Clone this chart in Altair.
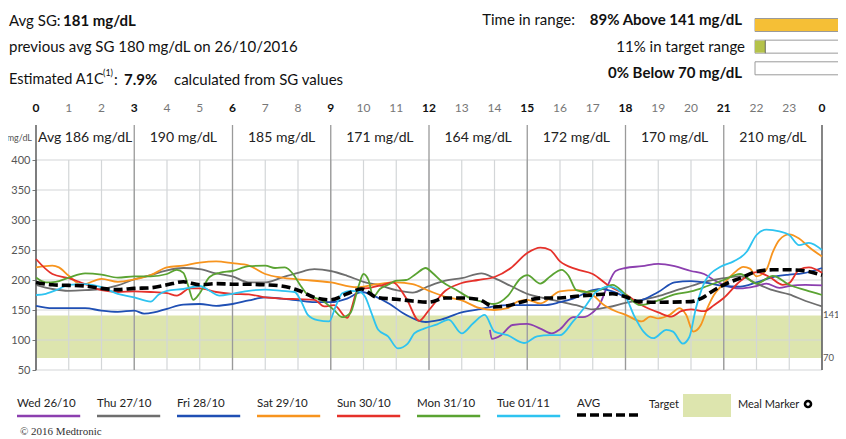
import altair as alt
import pandas as pd

# ---------------- data ----------------
days = ["Wed 26/10", "Thu 27/10", "Fri 28/10", "Sat 29/10", "Sun 30/10", "Mon 31/10", "Tue 01/11"]
day_colors = ["#8C3FAF", "#6E6E6E", "#1F4FB4", "#F7941E", "#E5312A", "#5AA332", "#2EC3F0"]

wed = [(13.86, 117), (13.92, 102), (14.2, 108), (14.55, 125), (15.0, 127), (15.4, 119), (15.75, 111),
       (16.0, 118), (16.4, 138), (16.7, 138), (17.0, 146), (17.2, 158), (17.45, 190), (17.7, 215),
       (18.0, 220), (18.5, 223), (19.0, 227), (19.5, 223), (20.0, 215), (20.4, 210), (20.7, 200),
       (21.0, 192), (21.5, 186), (22.0, 190), (22.3, 194), (22.7, 187), (23.0, 190), (23.5, 192), (24.0, 191)]
thu = [(0, 192), (0.5, 185), (1, 182), (1.5, 183), (2, 185), (2.5, 191), (3, 201), (3.5, 208), (4, 216),
       (4.5, 220), (5, 218), (5.5, 211), (6, 206), (6.5, 196), (7, 196), (7.5, 204), (8, 212), (8.5, 218),
       (9, 215), (9.5, 207), (10, 197), (10.5, 191), (11, 183), (11.5, 179), (12, 190), (12.5, 199),
       (13, 203), (13.6, 211), (14, 203), (14.5, 190), (15, 177), (15.5, 170), (16, 164), (16.5, 158),
       (17, 151), (17.5, 155), (18, 162), (18.5, 167), (19, 173), (19.5, 182), (20, 190), (20.5, 198),
       (21, 203), (21.5, 206), (22, 194), (22.5, 183), (23, 176), (23.5, 165), (24, 156)]
fri = [(0, 157), (0.5, 153), (1, 153), (1.5, 153), (2, 149), (2.5, 147), (3, 149), (3.3, 144), (3.6, 146),
       (4, 152), (4.5, 159), (5, 160), (5.5, 157), (6, 160), (6.5, 166), (7, 171), (7.5, 169), (8, 166),
       (8.5, 163), (9, 163), (9.5, 169), (9.95, 180), (10.3, 174), (10.8, 160), (11.2, 145), (11.6, 134),
       (11.9, 130), (12.3, 133), (13, 146), (13.5, 151), (14, 156), (14.5, 158), (15, 158), (15.5, 158),
       (16, 163), (16.4, 169), (17, 183), (17.3, 185), (17.6, 181), (18, 172), (18.35, 165), (19, 180),
       (19.5, 196), (20, 198), (20.6, 194), (21, 190), (21.5, 189), (22, 196), (22.5, 205), (23, 209),
       (23.4, 211), (24, 220)]
sat = [(0, 221), (0.5, 224), (0.7, 221), (1, 207), (1.4, 192), (2, 202), (2.5, 197), (3, 201), (3.5, 208),
       (4, 221), (4.5, 224), (5, 229), (5.5, 231), (6, 228), (6.5, 224), (7, 210), (7.5, 204), (8, 201),
       (9, 196), (9.8, 188), (10.4, 193), (11, 196), (11.5, 193), (12, 182), (12.5, 172), (13, 166),
       (13.5, 154), (14, 150), (14.4, 153), (14.7, 164), (15, 167), (15.4, 161), (16, 181), (16.5, 183),
       (17, 175), (17.3, 160), (17.7, 148), (18, 142), (18.5, 131), (18.75, 139), (19, 136), (19.35, 142),
       (19.65, 153), (19.85, 142), (20.07, 114), (20.3, 125), (20.5, 153), (20.7, 175), (21, 194),
       (21.3, 211), (21.6, 222), (21.8, 219), (22, 206), (22.3, 217), (22.5, 247), (22.7, 267), (23, 276),
       (23.3, 269), (23.6, 255), (24, 239)]
sun = [(0, 235), (0.5, 210), (1, 203), (1.5, 193), (2, 183), (2.5, 180), (3, 181), (3.5, 180), (4, 178),
       (4.3, 174), (4.7, 186), (5, 186), (5.5, 180), (6, 177), (6.5, 176), (7, 171), (7.5, 169), (8, 168),
       (8.5, 167), (8.8, 156), (9.1, 158), (9.5, 137), (9.85, 185), (10.2, 187), (10.6, 192), (10.9, 196),
       (11.3, 170), (11.7, 132), (12, 150), (12.5, 182), (13, 195), (13.5, 200), (14, 205), (14.5, 220),
       (15, 245), (15.4, 254), (15.7, 250), (16, 231), (16.5, 218), (17, 210), (17.5, 190), (18, 176),
       (18.5, 158), (19, 146), (19.4, 139), (19.7, 148), (20, 151), (20.4, 148), (20.7, 158), (21, 170),
       (21.5, 198), (22, 213), (22.4, 205), (22.8, 192), (23, 195), (23.3, 217), (23.6, 221), (24, 212)]
mon = [(0, 204), (0.3, 196), (0.6, 197), (1, 204), (1.5, 211), (2, 209), (2.5, 204), (3, 206), (3.5, 206),
       (4, 210), (4.3, 217), (4.5, 212), (4.65, 190), (4.8, 167), (5, 178), (5.3, 205), (5.6, 212), (6, 215),
       (6.5, 223), (7, 224), (7.3, 220), (7.6, 221), (7.85, 210), (8.05, 193), (8.3, 175), (8.7, 167),
       (9.1, 150), (9.35, 138), (9.6, 145), (9.85, 190), (10.0, 210), (10.15, 200), (10.3, 172), (10.5, 185),
       (10.75, 192), (11, 199), (11.3, 200), (11.6, 210), (11.9, 220), (12.1, 212), (12.4, 197), (12.85, 183),
       (13.25, 170), (13.7, 163), (14, 160), (14.4, 173), (14.8, 203), (15, 208), (15.4, 194), (15.7, 206),
       (16.05, 217), (16.25, 208), (16.5, 183), (16.8, 180), (17.2, 183), (17.6, 192), (18, 176),
       (18.45, 158), (19, 166), (19.5, 176), (20, 181), (20.5, 190), (21, 200), (21.5, 210), (22, 194),
       (22.5, 207), (23, 192), (23.5, 183), (24, 175)]
tue = [(0, 175), (0.3, 177), (0.7, 185), (1, 192), (1.5, 193), (2, 188), (2.5, 177), (3, 171), (3.5, 164),
       (3.75, 176), (4, 182), (4.5, 185), (5, 190), (5.3, 182), (5.6, 174), (6, 177), (6.5, 182), (7, 184),
       (7.5, 182), (7.9, 180), (8.1, 164), (8.3, 142), (8.6, 133), (8.95, 131), (9.15, 156), (9.35, 178),
       (9.6, 182), (9.85, 181), (10.05, 172), (10.25, 144), (10.45, 117), (10.75, 106), (11.05, 86),
       (11.35, 94), (11.55, 111), (11.85, 119), (12.25, 126), (12.6, 134), (13, 111), (13.35, 128),
       (13.7, 142), (14, 114), (14.4, 108), (14.9, 95), (15.3, 106), (15.7, 108), (16, 108), (16.4, 131),
       (16.8, 158), (17.1, 180), (17.5, 189), (18, 172), (18.25, 142), (18.55, 114), (18.85, 103),
       (19.25, 117), (19.45, 114), (19.75, 94), (19.95, 105), (20.15, 153), (20.45, 200), (20.9, 222),
       (21.3, 231), (21.7, 247), (22, 275), (22.3, 284), (22.7, 281), (23, 275), (23.3, 258), (23.6, 262),
       (24, 250)]
avg = [(0, 196), (0.5, 192), (1, 191), (1.5, 190), (2, 186), (2.5, 184), (3, 186), (3.5, 187), (4, 192),
       (4.5, 197), (5, 192), (5.5, 194), (6, 193), (6.5, 193), (7, 192), (7.5, 190), (8, 183), (8.5, 171),
       (9, 167), (9.5, 177), (9.95, 185), (10.4, 171), (11, 168), (11.5, 165), (12, 163), (12.5, 170),
       (13, 170), (13.5, 168), (14, 155), (14.4, 157), (15, 166), (15.5, 170), (16, 170), (16.5, 173),
       (17, 175), (17.6, 177), (18, 172), (18.4, 164), (19, 163), (20, 164), (20.3, 169), (20.7, 183),
       (21, 192), (21.5, 203), (22, 214), (22.5, 217), (23, 217), (23.5, 215), (24, 208)]

block_labels = ["Avg 186 mg/dL", "190 mg/dL", "185 mg/dL", "171 mg/dL",
                "164 mg/dL", "172 mg/dL", "170 mg/dL", "210 mg/dL"]
hour_ticks = list(range(25))
y_ticks = [50, 100, 150, 200, 250, 300, 350, 400]
target_low, target_high = 70, 141

tir_labels = ["89% Above 141 mg/dL", "11% in target range", "0% Below 70 mg/dL"]
tir_pct = [89, 11, 0]
tir_colors = ["#F5BF36", "#B4C24A", "#FFFFFF"]

# ---------------- layout constants ----------------
OX, OY = 36, 160          # page position of plot origin
W, H = 786, 210
CW, CH = 830, 431         # canvas size
FONT = "Lato, Open Sans, sans-serif"
NARROW = "Lato, Roboto, sans-serif"

series = pd.DataFrame(
    [(d, h, v) for d, pts in zip(days, [wed, thu, fri, sat, sun, mon, tue]) for h, v in pts],
    columns=["day", "h", "v"])
avg_df = pd.DataFrame(avg, columns=["h", "v"])

X = alt.X("h:Q", scale=alt.Scale(domain=[0, 24], nice=False, zero=False), axis=None)
Y = alt.Y("v:Q", scale=alt.Scale(domain=[50, 400], nice=False, zero=False),
          axis=alt.Axis(values=y_ticks, grid=False, domain=False, ticks=True, tickSize=4,
                        tickColor="#777", labelColor="#555", labelFont=NARROW, labelFontSize=11,
                        labelPadding=2, title=None))

dummy = pd.DataFrame({"d": [0]})


def txt(s, px, py, size=15, weight="normal", align="left", font=FONT, color="#111"):
    return alt.Chart(dummy).mark_text(
        text=s, align=align, baseline="middle", font=font, fontSize=size,
        fontWeight=weight, color=color).encode(x=alt.value(px - OX), y=alt.value(py - OY))


band = alt.Chart(pd.DataFrame({"h": [0], "h2": [24], "v": [target_low], "v2": [target_high]})).mark_rect(
    color="#DDE5AE").encode(x=X, x2="h2:Q", y=Y, y2="v2:Q")

vgrid = alt.Chart(pd.DataFrame({"h": hour_ticks})).mark_rule(color="#D3D6D8", strokeWidth=1.2).encode(
    x=X, y=alt.value(0), y2=alt.value(H))
hgrid = alt.Chart(pd.DataFrame({"v": y_ticks})).mark_rule(color="#D3D6D8", strokeWidth=1.2).encode(
    y=Y, x=alt.value(0), x2=alt.value(W))

major = pd.DataFrame({"h": hour_ticks[::3]})
major["c"] = ["#444" if h in (0, 24) else "#9A9A9A" for h in major["h"]]
vmajor = alt.Chart(major).mark_rule(strokeWidth=1.3).encode(
    x=X, y=alt.value(-35), y2=alt.value(H), color=alt.Color("c:N", scale=None))

lines = alt.Chart(series).mark_line(strokeWidth=1.8, interpolate="monotone").encode(
    x=X, y=Y, color=alt.Color("day:N", scale=alt.Scale(domain=days, range=day_colors), legend=None),
    order=alt.Order("h:Q"))
avg_line = alt.Chart(avg_df).mark_line(strokeWidth=3.6, color="black", strokeDash=[9, 4],
                                       interpolate="monotone").encode(x=X, y=Y)

hl = pd.DataFrame({"h": hour_ticks, "lab": [str(h % 24) for h in hour_ticks]})
hl["major"] = [h % 3 == 0 for h in hour_ticks]
hour_major = alt.Chart(hl).transform_filter("datum.major").mark_text(
    font=NARROW, fontSize=12, fontWeight="bold", color="#111", baseline="middle").encode(
    x=X, y=alt.value(108 - OY), text="lab:N")
hour_minor = alt.Chart(hl).transform_filter("!datum.major").mark_text(
    font=NARROW, fontSize=12, color="#777", baseline="middle").encode(
    x=X, y=alt.value(108 - OY), text="lab:N")

blocks = pd.DataFrame({"h": [3 * i + 1.5 for i in range(8)], "lab": block_labels})
block_text = alt.Chart(blocks).mark_text(font=FONT, fontSize=14, color="#222", baseline="middle").encode(
    x=X, y=alt.value(138 - OY), text="lab:N")

right_lab = alt.Chart(pd.DataFrame({"v": [target_high, target_low]})).mark_text(
    font=NARROW, fontSize=9.5, color="#555", align="left", baseline="middle").encode(
    y=Y, x=alt.value(W + 1), text="v:N")

main = alt.layer(
    band, vgrid, hgrid, vmajor, lines, avg_line, hour_major, hour_minor, block_text, right_lab,
    txt("mg/dL", 32, 138, size=9, align="right", font=NARROW, color="#555"),
    # header left
    txt("Avg SG:", 9, 21), txt("181 mg/dL", 63, 21, weight="bold"),
    txt("previous avg SG 180 mg/dL on 26/10/2016", 9, 47),
    txt("Estimated A1C", 9, 80, size=14.5), txt("(1)", 103, 73, size=9), txt(":", 114, 80),
    txt("7.9%", 124, 80, weight="bold"), txt("calculated from SG values", 174, 80),
    # header right
    txt("Time in range:", 575, 20, align="right"),
    txt(tir_labels[0], 742, 20, weight="bold", align="right"),
    txt(tir_labels[1], 745, 47, align="right"),
    txt(tir_labels[2], 742, 73, weight="bold", align="right"),
    # legend extras
    txt("Target", 649, 405, size=11, font=NARROW, color="#222"),
    alt.Chart(dummy).mark_rect(color="#DDE5AE").encode(
        x=alt.value(683 - OX), x2=alt.value(731 - OX), y=alt.value(394 - OY), y2=alt.value(417 - OY)),
    txt("Meal Marker", 738, 405, size=11, font=NARROW, color="#222"),
    alt.Chart(dummy).mark_point(shape="circle", size=36, stroke="black", strokeWidth=2.6, filled=False,
                                opacity=1).encode(x=alt.value(808 - OX), y=alt.value(404 - OY)),
    txt("© 2016 Medtronic", 20, 432, size=11, font="Liberation Serif, DejaVu Serif, serif", color="#333"),
)

# time-in-range bars
tir_df = pd.DataFrame({"row": [0, 1, 2], "pct": tir_pct, "c": tir_colors, "lo": 0, "hi": 100})
TX = alt.X("lo:Q", scale=alt.Scale(domain=[0, 100], range=[755 - OX, 849 - OX]), axis=None)
TY = alt.Y("row:Q", scale=alt.Scale(domain=[0, 2], range=[20 - OY, 73.3 - OY]), axis=None)
tir_box = alt.Chart(tir_df).mark_bar(size=13, fill="white", stroke="#9A9A9A", strokeWidth=1).encode(
    x=TX, x2="hi:Q", y=TY)
tir_fill = alt.Chart(tir_df).transform_filter("datum.pct > 0").mark_bar(size=12).encode(
    x=TX, x2="pct:Q", y=TY, color=alt.Color("c:N", scale=None))
tir_end = alt.Chart(tir_df).transform_filter("datum.pct > 0").mark_tick(
    orient="vertical", size=13, thickness=1.2, color="#555").encode(
    x=alt.X("pct:Q", scale=alt.Scale(domain=[0, 100], range=[755 - OX, 849 - OX]), axis=None), y=TY)
tir = alt.layer(tir_box, tir_fill, tir_end)

# legend
leg = pd.DataFrame({"name": days + ["AVG"], "i": list(range(8)), "c": day_colors + ["#000000"]})
LX = alt.X("i:Q", scale=alt.Scale(domain=[0, 7], range=[17 - OX, 577 - OX]), axis=None)
leg_text = alt.Chart(leg).mark_text(font=NARROW, fontSize=11.5, color="#222", align="left",
                                    baseline="middle").encode(x=LX, y=alt.value(404 - OY), text="name:N")
leg_line = alt.Chart(leg).transform_filter("datum.i < 7").transform_calculate(
    i2="datum.i + 0.79").mark_rule(strokeWidth=2.6).encode(
    x=LX, x2="i2:Q", y=alt.value(416 - OY), color=alt.Color("c:N", scale=None))
leg_avg = alt.Chart(leg).transform_filter("datum.i == 7").transform_calculate(
    i2="datum.i + 0.79").mark_rule(strokeWidth=3.6, color="black", strokeDash=[9, 4]).encode(
    x=LX, x2="i2:Q", y=alt.value(415 - OY))
legend = alt.layer(leg_text, leg_line, leg_avg)

chart = alt.layer(main, tir, legend).resolve_scale(
    x="independent", y="independent"
).properties(
    width=W, height=H,
    autosize=alt.AutoSizeParams(type="none"),
    padding={"left": OX - 8, "top": OY - 8, "right": CW - (OX - 8) - W, "bottom": CH - (OY - 8) - H},
).configure_view(stroke=None)

chart.save("out.html", embed_options={"renderer": "svg", "actions": False})
